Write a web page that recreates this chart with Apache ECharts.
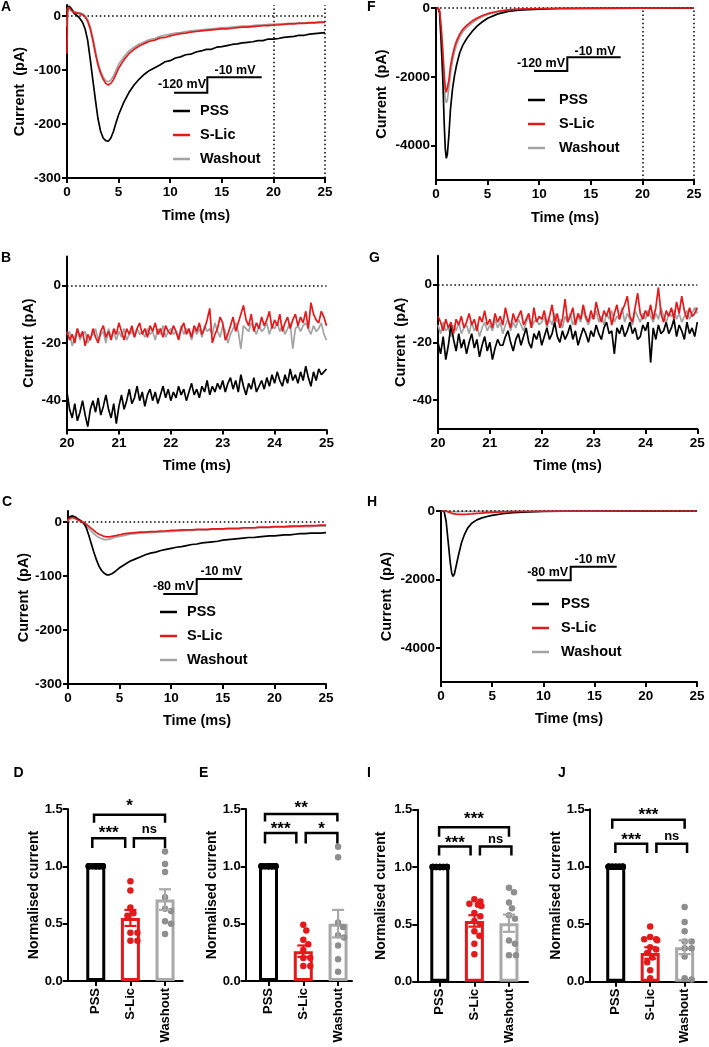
<!DOCTYPE html>
<html><head><meta charset="utf-8">
<script src="https://cdn.jsdelivr.net/npm/echarts@6.0.0/dist/echarts.min.js"></script>
<style>html,body{margin:0;padding:0;background:#fff}#c{width:709px;height:1047px}</style>
</head><body><div id="c"></div>
<script>
// ---------------- DATA ----------------
const names = ['PSS', 'S-Lic', 'Washout'];
// Panel A (-120 mV holding), time in ms, current in pA
const A_t = [0,0.05,0.2,0.4,0.7,1.0,1.25,1.5,1.75,2.0,2.25,2.5,2.75,3.0,3.25,3.5,3.75,4.0,4.25,4.5,4.75,5.0,5.5,6,6.5,7,7.5,8,8.5,9,9.5,10,10.5,11,11.5,12,12.5,13,13.5,14,14.5,15,15.5,16,16.5,17,17.5,18,18.5,19,19.5,20,20.5,21,21.5,22,22.5,23,23.5,24,24.5,25];
const A_pss = [-2,10,18,14,4,0,-5,-12,-24,-45,-80,-118,-155,-190,-213,-226,-231,-232,-226,-214,-198,-183,-160,-142,-128,-117,-108,-101,-96,-91,-85,-83,-78,-76,-72,-71,-67,-65,-62,-62,-58,-57,-55,-53,-52,-50,-49,-48,-46,-46,-43,-43,-42,-40,-39,-38,-36,-36,-34,-33,-32,-31];
const A_slic = [-70,12,16,10,6,5,4,2,-2,-10,-24,-45,-70,-91,-106,-117,-125,-128,-125,-118,-108,-97,-82,-70,-62,-56,-51,-47,-45,-41,-40,-37,-35,-33,-32,-30,-29,-28,-27,-26,-25,-24,-24,-23,-22,-21,-21,-20,-19,-18,-18,-17,-17,-16,-15,-15,-14,-14,-13,-13,-12,-12];
const A_wash = [-20,15,18,12,8,6,5,4,0,-7,-20,-40,-64,-86,-102,-113,-120,-122,-119,-111,-101,-90,-76,-65,-58,-52,-48,-44,-42,-38,-36,-34,-32,-31,-29,-28,-27,-26,-25,-24,-23,-22,-22,-21,-20,-19,-19,-18,-17,-17,-16,-16,-15,-15,-14,-14,-13,-13,-12,-12,-11,-11];
// Panel C (-80 mV holding)
const C_t = A_t;
const C_pss = [4,8,10,11,9,5,2,-2,-10,-24,-40,-56,-70,-82,-90,-95,-98,-98,-96,-93,-89,-85,-79,-73,-69,-65,-61,-58,-56,-53,-51,-49,-47,-46,-44,-42,-41,-39,-38,-37,-36,-34,-33,-32,-31,-30,-29,-29,-28,-27,-26,-26,-25,-24,-24,-23,-22,-22,-21,-21,-21,-20];
const C_slic = [0,5,8,8,6,3,1,-1,-4,-8,-12,-16,-20,-23,-25,-27,-28,-28,-27,-26,-25,-24,-22,-21,-20,-19,-19,-18,-18,-17,-17,-16,-16,-15,-15,-15,-14,-14,-14,-13,-13,-13,-12,-12,-12,-11,-11,-11,-10,-10,-10,-9,-9,-9,-8,-8,-8,-7,-7,-7,-6,-6];
const C_wash = [0,6,9,9,7,3,0,-3,-7,-12,-17,-22,-26,-29,-31,-33,-33,-32,-31,-29,-28,-27,-25,-23,-22,-21,-20,-20,-19,-19,-18,-18,-17,-17,-16,-16,-15,-15,-15,-14,-14,-14,-13,-13,-13,-12,-12,-12,-11,-11,-11,-10,-10,-10,-10,-9,-9,-9,-9,-8,-8,-8];
// Panel F (-120 mV)
const F_t = [0,0.2,0.35,0.5,0.65,0.8,0.9,1.0,1.1,1.25,1.4,1.6,1.8,2.0,2.3,2.6,3.0,3.5,4.0,4.5,5.0,6,7,8,9,10,12,15,20,25];
const F_pss = [0,0,-150,-1000,-2000,-3400,-4100,-4370,-4250,-3700,-2950,-2350,-1950,-1650,-1300,-1080,-880,-680,-520,-400,-300,-170,-100,-65,-45,-30,-15,-8,-3,0];
const F_slic = [0,0,-80,-550,-1200,-1950,-2330,-2450,-2400,-2100,-1700,-1380,-1130,-950,-760,-620,-500,-380,-290,-220,-165,-95,-55,-35,-25,-17,-8,-4,-2,0];
const F_wash = [0,0,-95,-630,-1400,-2250,-2650,-2750,-2680,-2330,-1900,-1530,-1260,-1060,-840,-690,-560,-430,-330,-255,-190,-108,-63,-42,-29,-19,-9,-5,-2,0];
// Panel H (-80 mV)
const H_t = [0,0.3,0.5,0.7,0.9,1.05,1.17,1.3,1.5,1.7,2.0,2.3,2.6,3.0,3.5,4,4.5,5,6,7,8,10,12,15,20,25];
const H_pss = [0,0,-300,-900,-1500,-1820,-1910,-1850,-1580,-1300,-930,-680,-500,-360,-260,-200,-160,-130,-80,-50,-32,-15,-8,-4,-2,0];
const H_slic = [0,0,-5,-25,-50,-65,-75,-82,-92,-98,-100,-98,-94,-85,-72,-60,-48,-38,-25,-16,-10,-5,-3,-1,0,0];
const H_wash = [0,0,-3,-8,-12,-15,-17,-18,-18,-17,-15,-13,-11,-9,-7,-5,-4,-3,-2,-1,-1,0,0,0,0,0];
// Panels B and G: 20-25 ms window, sampled every 0.05 ms
const BG_t = Array.from({length: 101}, (_, i) => +(20 + i * 0.05).toFixed(2));
const B_pss = [-37,-43,-46,-41,-47,-44,-40,-45,-49,-43,
 -40,-44,-39,-45,-42,-38,-43,-46,-41,-48,
 -42,-38,-43,-40,-36,-41,-39,-35,-40,-37,
 -42,-38,-36,-40,-37,-41,-38,-35,-39,-36,
 -40,-37,-39,-35,-38,-36,-40,-37,-34,-38,
 -36,-39,-35,-37,-33,-38,-35,-37,-34,-36,
 -33,-37,-34,-32,-36,-33,-37,-31,-35,-38,
 -34,-36,-32,-37,-35,-33,-36,-32,-35,-31,
 -34,-30,-33,-35,-31,-34,-29,-33,-31,-34,
 -30,-33,-28,-32,-35,-30,-33,-29,-31,-30,-29];
const B_slic = [-16,-19,-17,-20,-15,-18,-16,-21,-17,-19,
 -15,-18,-20,-16,-14,-18,-16,-19,-15,-17,
 -13,-16,-19,-15,-17,-14,-18,-15,-13,-17,
 -15,-18,-14,-16,-13,-17,-15,-18,-14,-16,
 -17,-14,-16,-19,-15,-13,-17,-15,-18,-14,
 -16,-13,-17,-15,-12,-8,-20,-17,-15,-11,
 -13,-19,-17,-14,-11,-16,-13,-10,-7,-12,
 -14,-10,-16,-13,-15,-11,-14,-12,-9,-15,
 -12,-14,-10,-16,-13,-11,-15,-12,-10,-14,
 -11,-13,-9,-15,-6,-10,-12,-13,-9,-11,-14];
const B_wash = [-17,-16,-21,-18,-15,-19,-17,-16,-20,-18,
 -17,-15,-19,-17,-16,-20,-15,-18,-16,-19,
 -16,-18,-15,-19,-17,-16,-18,-15,-17,-16,
 -18,-15,-17,-16,-19,-15,-17,-14,-18,-16,
 -15,-17,-16,-18,-14,-17,-15,-16,-19,-15,
 -17,-15,-18,-14,-16,-15,-17,-13,-16,-18,
 -14,-16,-20,-17,-15,-13,-16,-22,-14,-15,
 -16,-13,-15,-17,-14,-16,-15,-13,-17,-14,
 -15,-13,-16,-14,-17,-15,-13,-22,-15,-14,
 -16,-14,-13,-15,-17,-14,-16,-15,-13,-17,-19];
const G_pss = [-20,-24,-18,-26,-21,-14,-19,-23,-17,-22,
 -19,-24,-20,-17,-22,-19,-25,-21,-18,-23,
 -20,-26,-22,-19,-21,-21,-18,-16,-20,-23,
 -19,-17,-21,-18,-15,-20,-22,-17,-19,-16,
 -21,-18,-15,-19,-17,-13,-18,-20,-16,-19,
 -17,-14,-19,-16,-21,-18,-15,-17,-20,-16,
 -18,-14,-17,-19,-15,-13,-17,-16,-24,-15,
 -17,-14,-18,-16,-13,-17,-15,-19,-18,-14,
 -16,-13,-27,-15,-19,-14,-17,-16,-13,-17,
 -15,-12,-18,-14,-16,-19,-13,-17,-15,-18,-13];
const G_slic = [-11,-13,-16,-12,-15,-13,-17,-12,-14,-11,
 -15,-13,-10,-14,-12,-16,-11,-13,-9,-14,
 -12,-15,-10,-13,-11,-14,-8,-12,-15,-10,
 -13,-11,-9,-14,-12,-10,-15,-8,-13,-11,
 -12,-9,-14,-11,-7,-13,-10,-15,-12,-5,
 -13,-11,-8,-14,-10,-12,-7,-11,-13,-9,
 -12,-6,-10,-13,-9,-11,-8,-14,-10,-7,
 -12,-9,-7,-4,-11,-13,-8,-3,-10,-12,
 -9,-11,-7,-12,-8,-1,-10,-13,-9,-11,
 -8,-12,-6,-10,-4,-9,-12,-8,-11,-10,-8];
const G_wash = [-14,-17,-13,-16,-15,-18,-14,-16,-13,-17,
 -15,-14,-17,-13,-16,-14,-18,-15,-13,-16,
 -14,-16,-12,-15,-13,-17,-14,-12,-16,-13,
 -15,-12,-14,-16,-13,-11,-15,-13,-12,-14,
 -13,-11,-15,-12,-14,-10,-13,-12,-15,-11,
 -13,-10,-14,-12,-11,-13,-9,-12,-14,-11,
 -12,-9,-13,-11,-14,-10,-12,-9,-13,-11,
 -12,-8,-13,-10,-12,-14,-9,-11,-13,-10,
 -12,-9,-11,-13,-10,-12,-8,-11,-13,-10,
 -11,-9,-12,-10,-13,-11,-9,-12,-10,-8,-10];
// Bar panels: normalised current (mean, SEM, individual cells)
const D_mean = [1.0, 0.55, 0.71], D_sem = [0, 0.07, 0.09];
const D_pss = [1,1,1,1,1,1,1,1,1];
const D_slic = [0.87,0.79,0.64,0.59,0.57,0.42,0.42,0.35,0.35];
const D_wash = [1.13,1.02,0.95,0.73,0.63,0.61,0.52,0.50,0.41];
const E_mean = [1.0, 0.26, 0.50], E_sem = [0, 0.05, 0.12];
const E_pss = [1,1,1,1,1,1,1,1,1];
const E_slic = [0.49,0.44,0.36,0.32,0.27,0.20,0.20,0.13,0.13];
const E_wash = [1.17,1.08,0.51,0.47,0.40,0.38,0.31,0.19,0.08];
const I_mean = [1.0, 0.53, 0.51], I_sem = [0, 0.05, 0.075];
const I_pss = [1,1,1,1,1,1,1,1,1,1,1,1,1];
const I_slic = [0.72,0.70,0.68,0.67,0.66,0.60,0.57,0.53,0.50,0.44,0.40,0.33,0.24];
const I_wash = [0.82,0.78,0.69,0.64,0.58,0.55,0.36,0.33,0.23,0.23];
const J_mean = [1.0, 0.25, 0.30], J_sem = [0, 0.05, 0.06];
const J_pss = [1,1,1,1,1,1,1,1,1,1,1,1];
const J_slic = [0.48,0.39,0.37,0.37,0.36,0.30,0.28,0.25,0.21,0.17,0.10,0.03];
const J_wash = [0.65,0.52,0.44,0.35,0.35,0.29,0.29,0.22,0.03,0.02];
// significance labels: [from, to, label]
const D_sig = [[1,3,'*'],[1,2,'***'],[2,3,'ns']];
const E_sig = [[1,3,'**'],[1,2,'***'],[2,3,'*']];
const I_sig = [[1,3,'***'],[1,2,'***'],[2,3,'ns']];
const J_sig = [[1,3,'***'],[1,2,'***'],[2,3,'ns']];

// ---------------- STYLE ----------------
const FONT = '"Liberation Sans", Arial, sans-serif';
const RED = '#e3191c', GREY = '#a3a3a3', BLACK = '#000000';
const BAR_COLORS = [BLACK, RED, '#a8a8a8'];
const DOT_COLORS = [BLACK, RED, '#8e8e8e'];
const TRACE_COLORS = {PSS: BLACK, 'S-Lic': RED, Washout: GREY};

const grids = [], xAxes = [], yAxes = [], series = [], legends = [], graphics = [];
const lab = (size) => ({fontFamily: FONT, fontWeight: 'bold', fontSize: size, color: '#000'});
const pair = (t, v) => t.map((x, i) => [x, v[i]]);

function addTrace(c) {
  const gi = grids.length;
  grids.push({left: c.left, top: c.top, width: c.width, height: c.height});
  xAxes.push({gridIndex: gi, type: 'value', min: c.xmin, max: c.xmax, interval: c.xint,
    name: 'Time (ms)', nameLocation: 'middle', nameGap: c.xgap, nameTextStyle: lab(14.5),
    axisLine: {show: true, onZero: false, lineStyle: {color: '#000', width: 2}},
    axisTick: {show: true, length: 5, lineStyle: {color: '#000', width: 2}},
    axisLabel: Object.assign(lab(13.5), {margin: 7, formatter: v => String(v)}), splitLine: {show: false}});
  yAxes.push({gridIndex: gi, type: 'value', min: c.ymin, max: c.ymax,
    name: 'Current  (pA)', nameLocation: 'middle', nameGap: c.ygap, nameRotate: 90, nameTextStyle: lab(14.5),
    axisLine: {show: true, onZero: false, lineStyle: {color: '#000', width: 2}},
    axisTick: {show: true, length: 5, lineStyle: {color: '#000', width: 2}, customValues: c.yticks},
    axisLabel: Object.assign(lab(13.5), {margin: 6, customValues: c.yticks, formatter: v => String(v)}), splitLine: {show: false}});
  const order = [['Washout', c.wash], ['PSS', c.pss], ['S-Lic', c.slic]];
  order.forEach(([nm, v], k) => {
    const s = {type: 'line', name: nm, xAxisIndex: gi, yAxisIndex: gi, data: pair(c.t, v),
      showSymbol: false, symbol: 'none', animation: false, z: 3 + k,
      lineStyle: {width: 1.7, color: TRACE_COLORS[nm]}, itemStyle: {color: TRACE_COLORS[nm]}};
    if (k === 0) {
      const ml = [{yAxis: 0}];
      (c.vlines || []).forEach(x => ml.push({xAxis: x}));
      s.markLine = {silent: true, symbol: ['none', 'none'], label: {show: false}, animation: false,
        lineStyle: {type: [1.5, 2.6], width: 1.5, color: '#000'}, data: ml};
    }
    series.push(s);
  });
  if (c.legend) {
    legends.push({orient: 'vertical', left: c.legend[0], top: c.legend[1], itemWidth: 17, itemHeight: 2.5,
      itemGap: 8, icon: 'rect', selectedMode: false, padding: 0, data: names,
      textStyle: Object.assign(lab(14.5), {lineHeight: 16, padding: [0, 0, 0, c.legend[2]]})});
  }
}

function swarm(vals, cx, pxX, pxY, dia, lim) {
  const placed = [];
  return vals.map(v => {
    const py = v * pxY;
    let best = null;
    for (let k = 0; k <= lim * 2; k++) {
      const o = (k % 2 === 1 ? 1 : -1) * Math.ceil(k / 2);
      if (placed.every(p => Math.hypot(p[0] - o, p[1] - py) >= dia)) { best = o; break; }
    }
    if (best === null) best = ((placed.length % 5) - 2) * 3.5;
    placed.push([best, py]);
    return [cx + best / pxX, v];
  });
}

function addBars(c) {
  const gi = grids.length;
  grids.push({left: c.left, top: c.top, width: c.width, height: c.height});
  xAxes.push({gridIndex: gi, type: 'value', min: c.xmin, max: c.xmax,
    axisLine: {show: true, onZero: false, lineStyle: {color: '#000', width: 2}},
    axisTick: {show: true, length: 5, lineStyle: {color: '#000', width: 2}, customValues: [1, 2, 3]},
    axisLabel: Object.assign(lab(13), {margin: 7, rotate: 90, customValues: [1, 2, 3],
      formatter: v => names[Math.round(v) - 1] || ''}), splitLine: {show: false}});
  yAxes.push({gridIndex: gi, type: 'value', min: 0, max: 1.5, interval: 0.5,
    name: 'Normalised current', nameLocation: 'middle', nameGap: c.ygap, nameRotate: 90, nameTextStyle: lab(14),
    axisLine: {show: true, onZero: false, lineStyle: {color: '#000', width: 2}},
    axisTick: {show: true, length: 5, lineStyle: {color: '#000', width: 2}},
    axisLabel: Object.assign(lab(13), {margin: 5, formatter: v => v.toFixed(1)}), splitLine: {show: false}});
  series.push({type: 'bar', xAxisIndex: gi, yAxisIndex: gi, barWidth: 19, animation: false, z: 2,
    data: c.mean.map((m, i) => ({value: [i + 1, m], itemStyle: {color: '#fff', borderColor: BAR_COLORS[i], borderWidth: 3}}))});
  const pxX = c.width / (c.xmax - c.xmin), pxY = c.height / 1.5;
  [c.pss, c.slic, c.wash].forEach((vals, i) => {
    series.push({type: 'scatter', xAxisIndex: gi, yAxisIndex: gi, symbolSize: 6.5, animation: false, z: 3,
      itemStyle: {color: DOT_COLORS[i], opacity: 1}, data: swarm(vals, i + 1, pxX, pxY, 6.3, 10)});
  });
  series.push({type: 'custom', xAxisIndex: gi, yAxisIndex: gi, animation: false, z: 4,
    data: c.mean.map((m, i) => [i + 1, m, c.sem[i], i]),
    renderItem: (p, api) => {
      const x = api.value(0), m = api.value(1), s = api.value(2), col = BAR_COLORS[api.value(3)];
      if (!s) return null;
      const t = api.coord([x, m + s]), b = api.coord([x, m - s]);
      const st = {stroke: col, lineWidth: 2.2};
      return {type: 'group', children: [
        {type: 'line', shape: {x1: t[0], y1: t[1], x2: b[0], y2: b[1]}, style: st},
        {type: 'line', shape: {x1: t[0] - 6, y1: t[1], x2: t[0] + 6, y2: t[1]}, style: st},
        {type: 'line', shape: {x1: b[0] - 6, y1: b[1], x2: b[0] + 6, y2: b[1]}, style: st}]};
    }});
  // significance brackets: geometry (in axis units) for each comparison
  series.push({type: 'custom', xAxisIndex: gi, yAxisIndex: gi, animation: false, z: 5, silent: true,
    data: c.sig.map((s, i) => [s[0], s[1], i]),
    renderItem: (p, api) => {
      const i = api.value(2), g = c.geom[i], label = c.sig[i][2];
      const a = api.coord([g[0], g[3]]), b = api.coord([g[0], g[2]]), d = api.coord([g[1], g[2]]), e = api.coord([g[1], g[3]]);
      const L = api.coord([(g[0] + g[1]) / 2, g[4]]);
      const star = label.indexOf('*') >= 0;
      const fs = star ? 17 : 13;
      return {type: 'group', children: [
        {type: 'polyline', shape: {points: [a, b, d, e]}, style: {stroke: '#000', lineWidth: 2.5, fill: null}},
        {type: 'text', x: L[0], y: L[1] + (star ? fs * 0.2 : 0), style: {text: label, font: 'bold ' + fs + 'px ' + FONT,
          fill: '#000', align: 'center', verticalAlign: 'middle', textAlign: 'center', textVerticalAlign: 'middle'}}]};
    }});
}

// ---------------- PANELS ----------------
addTrace({left: 67, top: 5, width: 258, height: 173, xmin: 0, xmax: 25, xint: 5, ymin: -300, ymax: 20,
  yticks: [-300, -200, -100, 0], xgap: 30, ygap: 40, vlines: [20, 25],
  t: A_t, pss: A_pss, slic: A_slic, wash: A_wash, legend: [173, 103, 5]});
addTrace({left: 436, top: 8, width: 258, height: 172, xmin: 0, xmax: 25, xint: 5, ymin: -5000, ymax: 0,
  yticks: [-4000, -2000, 0], xgap: 30, ygap: 47, vlines: [20, 25],
  t: F_t, pss: F_pss, slic: F_slic, wash: F_wash, legend: [528, 92, 9]});
addTrace({left: 67, top: 256.5, width: 259.5, height: 173, xmin: 20, xmax: 25, xint: 1, ymin: -50, ymax: 10,
  yticks: [-40, -20, 0], xgap: 29, ygap: 31,
  t: BG_t, pss: B_pss, slic: B_slic, wash: B_wash});
addTrace({left: 438, top: 255.7, width: 259.3, height: 173.3, xmin: 20, xmax: 25, xint: 1, ymin: -50, ymax: 10,
  yticks: [-40, -20, 0], xgap: 29, ygap: 30,
  t: BG_t, pss: G_pss, slic: G_slic, wash: G_wash});
addTrace({left: 68, top: 511, width: 258, height: 173, xmin: 0, xmax: 25, xint: 5, ymin: -300, ymax: 20,
  yticks: [-300, -200, -100, 0], xgap: 29, ygap: 37,
  t: C_t, pss: C_pss, slic: C_slic, wash: C_wash, legend: [160, 604, 5]});
addTrace({left: 441, top: 511, width: 256, height: 171, xmin: 0, xmax: 25, xint: 5, ymin: -5000, ymax: 0,
  yticks: [-4000, -2000, 0], xgap: 29, ygap: 47,
  t: H_t, pss: H_pss, slic: H_slic, wash: H_wash, legend: [532, 596, 7]});

addBars({left: 67.7, top: 809, width: 115, height: 172, xmin: 0.19, xmax: 3.51, ygap: 24,
  mean: D_mean, sem: D_sem, pss: D_pss, slic: D_slic, wash: D_wash, sig: D_sig,
  geom: [[0.95, 3.0, 1.45, 1.38, 1.55], [0.9, 1.85, 1.245, 1.16, 1.32], [2.1, 3.0, 1.245, 1.16, 1.32]]});
addBars({left: 245.7, top: 809, width: 106.3, height: 172, xmin: 0.345, xmax: 3.4, ygap: 25,
  mean: E_mean, sem: E_sem, pss: E_pss, slic: E_slic, wash: E_wash, sig: E_sig,
  geom: [[0.9, 2.98, 1.457, 1.39, 1.54], [0.9, 1.8, 1.29, 1.2, 1.35], [2.07, 2.98, 1.29, 1.2, 1.35]]});
addBars({left: 417.3, top: 809.7, width: 110.7, height: 172, xmin: 0.35, xmax: 3.55, ygap: 29,
  mean: I_mean, sem: I_sem, pss: I_pss, slic: I_slic, wash: I_wash, sig: I_sig,
  geom: [[0.98, 3.0, 1.346, 1.265, 1.445], [0.98, 1.89, 1.18, 1.10, 1.24], [2.16, 3.07, 1.18, 1.10, 1.24]]});
addBars({left: 589.7, top: 809.3, width: 117, height: 172.4, xmin: 0.245, xmax: 3.64, ygap: 27,
  mean: J_mean, sem: J_sem, pss: J_pss, slic: J_slic, wash: J_wash, sig: J_sig,
  geom: [[0.9, 3.0, 1.41, 1.33, 1.48], [0.99, 1.91, 1.20, 1.12, 1.26], [2.18, 3.07, 1.20, 1.12, 1.26]]});

// ---------------- ANNOTATIONS (panel letters, voltage protocols) ----------------
function txt(x, y, s, size, align) {
  graphics.push({type: 'text', x: x, y: y, silent: true, style: {text: s, font: 'bold ' + size + 'px ' + FONT, fill: '#000',
    align: align || 'left', verticalAlign: 'middle', textAlign: align || 'left', textVerticalAlign: 'middle'}});
}
[['A', 1, 7.5], ['F', 367, 7.5], ['B', 1, 258], ['G', 369, 258], ['C', 2, 502.5], ['H', 367, 502.5],
 ['D', 13.5, 773.5], ['E', 199, 773.5], ['I', 367, 773.5], ['J', 558, 773.5]].forEach(l => txt(l[1], l[2], l[0], 14));
function protocol(lo, hi, x0, xs, x1, yLo, yHi, loTx, loTy, hiTx, hiTy) {
  graphics.push({type: 'polyline', silent: true, shape: {points: [[x0, yLo], [xs, yLo], [xs, yHi], [x1, yHi]]},
    style: {stroke: '#000', lineWidth: 2, fill: null}});
  txt(loTx, loTy, lo, 12.5, 'center');
  txt(hiTx, hiTy, hi, 12.5, 'center');
}
protocol('-120 mV', '-10 mV', 174, 207.3, 261.7, 92.7, 77.3, 182, 85, 235, 71);
protocol('-120 mV', '-10 mV', 534, 567.3, 620.7, 71, 57.3, 541, 64, 595, 51.7);
protocol('-80 mV', '-10 mV', 163.3, 196.7, 242.3, 594, 579, 173.5, 587, 221, 571.7);
protocol('-80 mV', '-10 mV', 536.7, 570.7, 616.7, 580.3, 566.7, 547.7, 572.7, 595, 559.3);

const chart = echarts.init(document.getElementById('c'), null, {renderer: 'canvas'});
chart.setOption({
  animation: false, backgroundColor: '#fff', textStyle: {fontFamily: FONT},
  grid: grids, xAxis: xAxes, yAxis: yAxes, series: series, legend: legends, graphic: graphics
});
</script></body></html>
